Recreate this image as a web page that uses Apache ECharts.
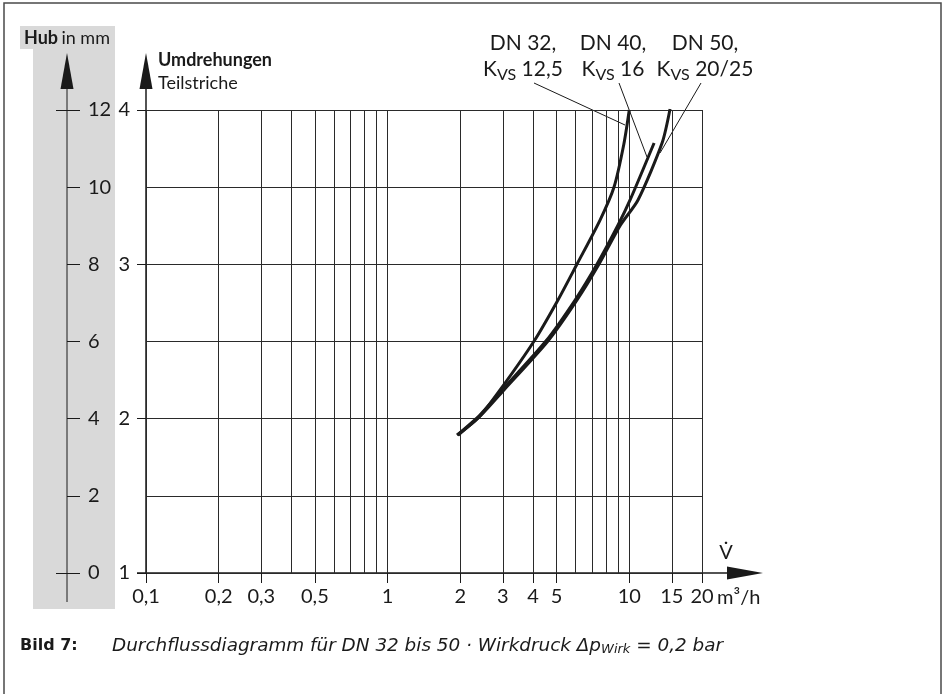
<!DOCTYPE html>
<html>
<head>
<meta charset="utf-8">
<script src="https://cdn.jsdelivr.net/npm/echarts@6/dist/echarts.min.js"></script>
<style>
  html, body { margin: 0; padding: 0; background: #fff; }
  #chart { width: 943px; height: 694px; }
</style>
</head>
<body>
<div id="chart"></div>
<script>
  // grid lines and labelled ticks of the flow axis (m3/h, log scale)
  const xGridValues = [0.1, 0.2, 0.3, 0.4, 0.5, 0.6, 0.7, 0.8, 0.9, 1, 2, 3, 4, 5, 6, 7, 8, 9, 10, 15, 20]
  const xTickValues = [0.1, 0.2, 0.3, 0.5, 1, 2, 3, 4, 5, 10, 15, 20]
  const xTickLabels = ['0,1', '0,2', '0,3', '0,5', '1', '2', '3', '4', '5', '10', '15', '20']
  // Umdrehungen (Teilstriche) and Hub in mm
  const turnTickValues = [1, 2, 3, 4]
  const hubTickValues = [0, 2, 4, 6, 8, 10, 12]
  const hubEndValues = [0, 12]

  // curves: flow in m3/h, turns
  const dn32Flow = [1.94, 2.37, 2.92, 4.04, 5.07, 6.08, 7.57, 8.65, 9.5, 10.0]
  const dn32Turns = [1.894, 2.004, 2.186, 2.503, 2.769, 3.002, 3.287, 3.501, 3.78, 4.0]
  const dn40Flow = [1.94, 2.41, 2.98, 4.52, 5.97, 7.36, 8.99, 10.08, 12.67]
  const dn40Turns = [1.894, 2.024, 2.186, 2.503, 2.769, 3.002, 3.255, 3.417, 3.786]
  const dn50Flow = [1.96, 2.44, 3.03, 4.61, 6.08, 7.5, 9.2, 10.87, 13.67, 14.75]
  const dn50Turns = [1.894, 2.024, 2.186, 2.503, 2.769, 3.002, 3.255, 3.417, 3.786, 4.007]

  const FONT = 'Lato, "Noto Sans", sans-serif'
  const CAP_FONT = '"DejaVu Sans", sans-serif'
  const INK = '#1a1a1a'
  const GRID_LEFT = 146, GRID_TOP = 110, GRID_RIGHT = 702, GRID_BOTTOM = 573
  const HUB_X = 67

  function zip(xs, ys) {
    return xs.map((x, i) => [x, ys[i]])
  }
  function curve(name, xs, ys) {
    return {
      name: name,
      type: 'line',
      xAxisIndex: 0,
      yAxisIndex: 0,
      smooth: 0.25,
      showSymbol: false,
      silent: true,
      lineStyle: { color: INK, width: 3 },
      data: zip(xs, ys)
    }
  }
  function xLabel(v) {
    let best = 0
    for (let i = 0; i < xTickValues.length; i++) {
      if (Math.abs(Math.log(xTickValues[i]) - Math.log(v)) < Math.abs(Math.log(xTickValues[best]) - Math.log(v))) best = i
    }
    return xTickLabels[best]
  }

  const chart = echarts.init(document.getElementById('chart'), null, { renderer: 'canvas' })

  const grid = { left: GRID_LEFT, top: GRID_TOP, width: GRID_RIGHT - GRID_LEFT, height: GRID_BOTTOM - GRID_TOP }
  const gridLine = { show: true, lineStyle: { color: '#2a2a2a', width: 1 } }

  const annText = (txt, x, y) => ({
    type: 'text',
    style: {
      text: txt, x: x, y: y, align: 'center', verticalAlign: 'middle',
      fill: INK, fontFamily: FONT, fontSize: 21, lineHeight: 26,
      rich: {
        n: { fontFamily: FONT, fontSize: 21, fill: INK },
        s: { fontFamily: FONT, fontSize: 16, fill: INK, padding: [11, 0, 0, 0] }
      }
    }
  })
  const leader = (x1, y1, x2, y2) => ({
    type: 'line', shape: { x1: x1, y1: y1, x2: x2, y2: y2 }, style: { stroke: INK, lineWidth: 1 }
  })

  chart.setOption({
    animation: false,
    backgroundColor: '#fff',
    grid: grid,
    xAxis: [{
      type: 'log', logBase: 10, min: 0.1, max: 20, position: 'bottom',
      axisLine: { show: false },
      axisTick: { show: false, customValues: xGridValues },
      axisLabel: { show: false },
      splitLine: gridLine
    }, {
      type: 'log', logBase: 10, min: 0.1, max: 20, position: 'bottom',
      axisLine: { show: false },
      axisTick: { show: true, length: 10, customValues: xTickValues, lineStyle: { color: INK } },
      axisLabel: {
        show: true, customValues: xTickValues, margin: 14,
        color: INK, fontFamily: FONT, fontSize: 20,
        formatter: xLabel
      },
      splitLine: { show: false }
    }],
    yAxis: [{
      type: 'value', min: 1, max: 4, interval: 0.5, position: 'left',
      axisLine: { show: false }, axisTick: { show: false }, axisLabel: { show: false },
      splitLine: gridLine
    }, {
      type: 'value', min: 1, max: 4, interval: 1, position: 'left',
      axisLine: { show: false },
      axisTick: { show: true, length: 9, customValues: turnTickValues, lineStyle: { color: INK } },
      axisLabel: { show: true, customValues: turnTickValues, margin: 16, color: INK, fontFamily: FONT, fontSize: 20 },
      splitLine: { show: false }
    }, {
      type: 'value', min: 0, max: 12, interval: 2, position: 'left', offset: GRID_LEFT - HUB_X,
      axisLine: { show: false },
      axisTick: { show: true, inside: true, length: 13, customValues: hubTickValues, lineStyle: { color: INK } },
      axisLabel: { show: true, inside: true, margin: 21, customValues: hubTickValues, color: INK, fontFamily: FONT, fontSize: 20 },
      splitLine: { show: false }
    }, {
      type: 'value', min: 0, max: 12, interval: 2, position: 'left', offset: GRID_LEFT - HUB_X,
      axisLine: { show: false },
      axisTick: { show: true, length: 11, customValues: hubEndValues, lineStyle: { color: INK } },
      axisLabel: { show: false },
      splitLine: { show: false }
    }],
    series: [
      curve('DN 32', dn32Flow, dn32Turns),
      curve('DN 40', dn40Flow, dn40Turns),
      curve('DN 50', dn50Flow, dn50Turns)
    ],
    graphic: [
      // frame
      { type: 'rect', z: -10, shape: { x: 4, y: 3, width: 937, height: 720 }, style: { fill: '#fff', stroke: '#4a4a4a', lineWidth: 1.5 } },
      // grey Hub band
      { type: 'rect', z: -5, shape: { x: 33, y: 26, width: 82, height: 583 }, style: { fill: '#d9d9d9' } },
      { type: 'rect', z: -5, shape: { x: 20, y: 26, width: 95, height: 23 }, style: { fill: '#d9d9d9' } },
      {
        type: 'text', style: {
          text: '{b|Hub} {n|in mm}', x: 24, y: 38, verticalAlign: 'middle',
          rich: {
            b: { fontFamily: FONT, fontSize: 18, fontWeight: 'bold', fill: INK },
            n: { fontFamily: FONT, fontSize: 18, fill: INK }
          }
        }
      },
      // Hub axis line + arrow
      leader(HUB_X, 88, HUB_X, 602),
      { type: 'polygon', shape: { points: [[HUB_X, 53], [HUB_X - 6.5, 89], [HUB_X + 6.5, 89]] }, style: { fill: INK } },
      // Umdrehungen axis line + arrow
      { type: 'line', shape: { x1: GRID_LEFT, y1: 88, x2: GRID_LEFT, y2: GRID_BOTTOM }, style: { stroke: INK, lineWidth: 1.5 } },
      { type: 'polygon', shape: { points: [[GRID_LEFT, 53], [GRID_LEFT - 6.5, 89], [GRID_LEFT + 6.5, 89]] }, style: { fill: INK } },
      { type: 'text', style: { text: 'Umdrehungen', x: 158, y: 60, verticalAlign: 'middle', fontFamily: FONT, fontSize: 18, fontWeight: 'bold', fill: INK } },
      { type: 'text', style: { text: 'Teilstriche', x: 158, y: 83, verticalAlign: 'middle', fontFamily: FONT, fontSize: 18, fill: INK } },
      // flow axis line + arrow
      { type: 'line', shape: { x1: GRID_LEFT - 9, y1: GRID_BOTTOM, x2: 728, y2: GRID_BOTTOM }, style: { stroke: INK, lineWidth: 1.5 } },
      { type: 'polygon', shape: { points: [[763, GRID_BOTTOM], [727, GRID_BOTTOM - 6.5], [727, GRID_BOTTOM + 6.5]] }, style: { fill: INK } },
      { type: 'text', style: { text: 'V\u0307', x: 726, y: 553, align: 'center', verticalAlign: 'middle', fontFamily: FONT, fontSize: 20, fill: INK } },
      { type: 'text', style: { text: 'm³/h', x: 717, y: 598, verticalAlign: 'middle', fontFamily: FONT, fontSize: 20, fill: INK } },
      // curve annotations
      annText('DN 32,\n{n|K}{s|VS}{n| 12,5}', 523, 56),
      annText('DN 40,\n{n|K}{s|VS}{n| 16}', 613, 56),
      annText('DN 50,\n{n|K}{s|VS}{n| 20/25}', 705, 56),
      leader(534, 83, 625, 125),
      leader(619, 83, 647, 157),
      leader(701, 83, 660, 153),
      // caption
      {
        type: 'text', style: {
          text: '{b|Bild 7:}', x: 20, y: 646, verticalAlign: 'middle',
          rich: { b: { fontFamily: CAP_FONT, fontSize: 16, fontWeight: 'bold', fill: INK } }
        }
      },
      {
        type: 'text', style: {
          text: '{i|Durchflussdiagramm für DN 32 bis 50 · Wirkdruck Δp}{s|Wirk}{i| = 0,2 bar}', x: 112, y: 646, verticalAlign: 'middle',
          rich: {
            i: { fontFamily: CAP_FONT, fontSize: 18.4, fontStyle: 'italic', fill: INK },
            s: { fontFamily: CAP_FONT, fontSize: 13, fontStyle: 'italic', fill: INK, padding: [8, 0, 0, 0] }
          }
        }
      }
    ]
  })
</script>
</body>
</html>
